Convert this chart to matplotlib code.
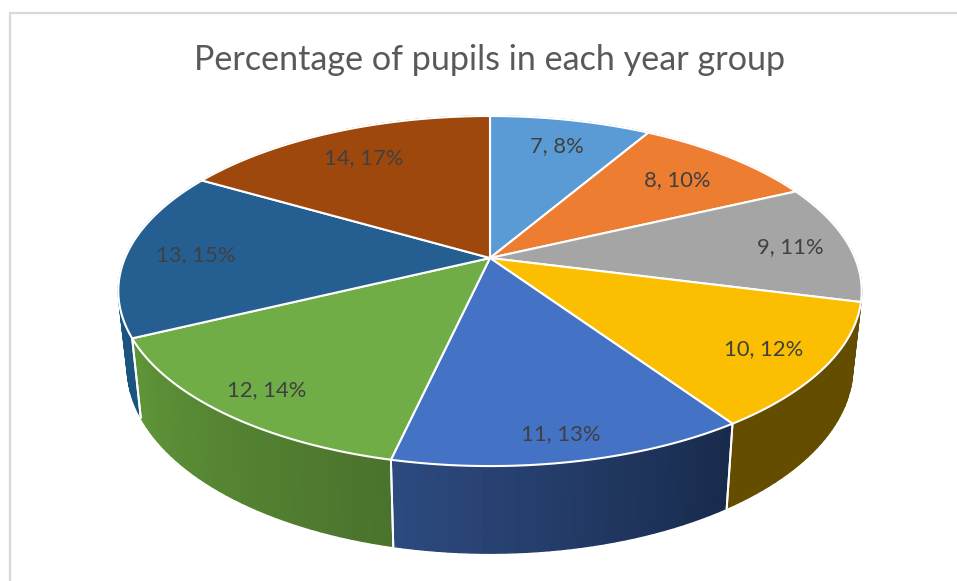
import numpy as np
import matplotlib
matplotlib.use('Agg')
import matplotlib.pyplot as plt

# Chart data
year_groups = ['7', '8', '9', '10', '11', '12', '13', '14']
percentages = [8, 10, 11, 12, 13, 14, 15, 17]
title = 'Percentage of pupils in each year group'

# Colours
top_colors = ['#5B9BD5', '#ED7D31', '#A5A5A5', '#FBBE00', '#4472C4', '#70AD47', '#255E91', '#9E480E']
wall_left = ['#3A6A94', '#A0531F', '#6F6F6F', '#654D00', '#2D4A80', '#5F9538', '#1C5480', '#6B300A']
wall_right = ['#3A6A94', '#A0531F', '#6F6F6F', '#654D00', '#182A4C', '#4A722D', '#1C5480', '#6B300A']
label_radius = [0.80, 0.765, 0.84, 0.835, 0.88, 0.86, 0.81, 0.785]

# Perspective of the disc, in pixels
cx, cy = 490, 258
rx, ry, tilt = 365, 168.8, 0.1887
wall_scale, wall_yscale, wall_drop = 0.976, 1.0625, 58

# Small angle correction (degrees) so the wedge edges land where the 3D renderer put them
warp_at = [0, 28.8, 64.8, 104.4, 147.6, 194.4, 244.8, 298.8, 360]
warp_by = [0, 1.5, 0, 0, -1.7, -1.6, -0.7, 1.4, 0]


def project(theta, r=1.0):
    # theta is clockwise from 12 o'clock
    theta = theta + np.radians(np.interp(np.degrees(theta), warp_at, warp_by))
    X = r * np.sin(theta)
    Y = r * np.cos(theta)
    w = 1 + tilt * Y
    return cx + rx * X / w, cy - ry * Y / w


def lower(x, y):
    return cx + (x - cx) * wall_scale, y * wall_yscale + wall_drop


fig = plt.figure(figsize=(9.57, 5.81), dpi=100)
ax = fig.add_axes([0, 0, 1, 1])
ax.set_xlim(0, 957)
ax.set_ylim(581, 0)
ax.axis('off')

# Chart frame, only top and left are in view
ax.plot([957, 10, 10], [13, 13, 581], color='#D9D9D9', lw=1.6, solid_joinstyle='miter')

edges = np.cumsum([0] + percentages) / sum(percentages) * 2 * np.pi

# Side walls, back to front
draw_order = sorted(range(len(percentages)), key=lambda k: np.cos((edges[k] + edges[k + 1]) / 2), reverse=True)
for i in draw_order:
    a0, a1 = edges[i], edges[i + 1]
    steps = max(int((a1 - a0) * 40), 2)
    th = np.linspace(a0, a1, steps + 1)
    x, y = project(th)
    xb, yb = lower(x, y)
    c0 = np.array(matplotlib.colors.to_rgb(wall_left[i]))
    c1 = np.array(matplotlib.colors.to_rgb(wall_right[i]))
    for j in range(steps):
        # angle runs right to left along the front, so the colour is flipped
        frac = 1 - (j + 0.5) / steps
        col = c0 + (c1 - c0) * frac
        ax.fill([x[j], x[j + 1], xb[j + 1], xb[j]], [y[j], y[j + 1], yb[j + 1], yb[j]],
                color=col, lw=1.0, zorder=2)
    # separators only on the front of the disc
    for k, a in ((0, a0), (-1, a1)):
        if np.cos(a) < -0.3:
            ax.plot([x[k], xb[k]], [y[k], yb[k]], color='white', lw=1.4, zorder=3)

# Top surface
for i in range(len(percentages)):
    th = np.linspace(edges[i], edges[i + 1], 120)
    x, y = project(th)
    ax.fill(np.r_[cx, x], np.r_[cy, y], facecolor=top_colors[i], edgecolor='white', lw=1.5,
            joinstyle='round', zorder=4)

# Labels
for i, (yg, pc) in enumerate(zip(year_groups, percentages)):
    mid = (edges[i] + edges[i + 1]) / 2
    lx, ly = project(mid, label_radius[i])
    ax.text(lx, ly + 2, f'{yg}, {pc}%', ha='center', va='center', fontsize=15.8, family='Lato',
            color='#404040', zorder=5)

ax.text(490, 60, title, ha='center', va='center', fontsize=24.6, family='Lato', color='#595959')

fig.savefig('out.png', dpi=100)
